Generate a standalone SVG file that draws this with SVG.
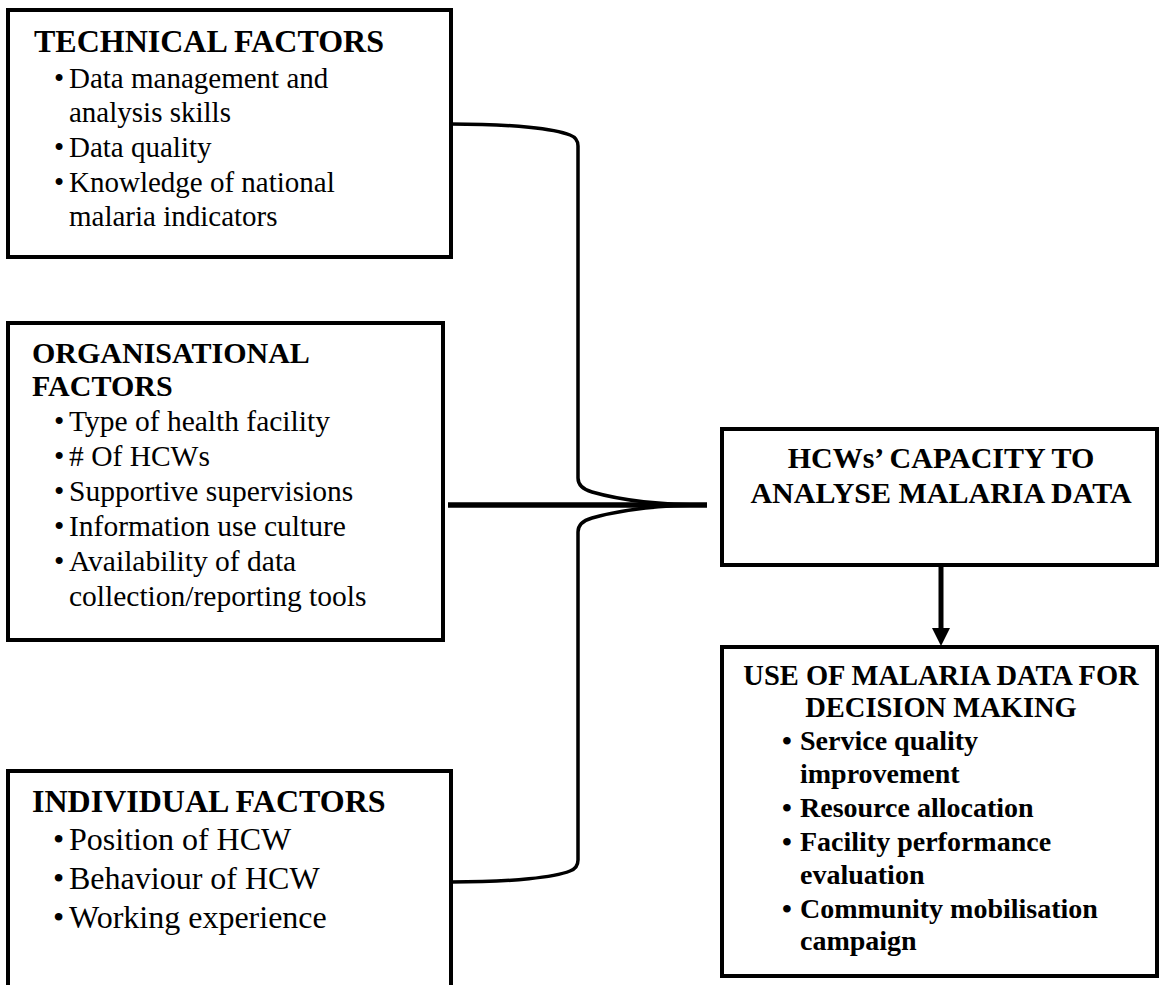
<svg xmlns="http://www.w3.org/2000/svg" width="1160" height="985" viewBox="0 0 1160 985">
<style>
.box{fill:#fff;stroke:#000;stroke-width:4}
.t{font-family:"Liberation Serif","Times New Roman",serif;fill:#000}
.r29{font-size:29px}
.r295{font-size:29.5px}
.r32{font-size:32px}
.h32{font-size:32px;font-weight:bold}
.h30{font-size:30px;font-weight:bold}
.h285{font-size:28.5px;font-weight:bold}
.h28{font-size:28px;font-weight:bold}
.c{text-anchor:middle}
.con{fill:none;stroke:#000;stroke-linejoin:round}
</style>
<defs>
<marker id="arr" viewBox="0 0 10 10" refX="0" refY="5" markerWidth="3.6" markerHeight="3.6" orient="auto" markerUnits="strokeWidth">
<path d="M0,0 L10,5 L0,10 Z" fill="#000"/>
</marker>
</defs>
<rect width="1160" height="985" fill="#fff"/>

<g id="technical">
<rect class="box" x="8" y="10" width="443" height="247"/>
<text class="t h32" x="34" y="52">TECHNICAL FACTORS</text>
<text class="t r29" x="54" y="88">•</text><text class="t r29" x="69" y="88">Data management and</text>
<text class="t r29" x="69" y="122">analysis skills</text>
<text class="t r29" x="54" y="157">•</text><text class="t r29" x="69" y="157">Data quality</text>
<text class="t r29" x="54" y="192">•</text><text class="t r29" x="69" y="192">Knowledge of national</text>
<text class="t r29" x="69" y="226">malaria indicators</text>
</g>

<g id="organisational">
<rect class="box" x="8" y="323" width="435" height="317"/>
<text class="t h30" x="32" y="363">ORGANISATIONAL</text>
<text class="t h30" x="32" y="396">FACTORS</text>
<text class="t r295" x="54" y="431">•</text><text class="t r295" x="69" y="431">Type of health facility</text>
<text class="t r295" x="54" y="466">•</text><text class="t r295" x="69" y="466"># Of HCWs</text>
<text class="t r295" x="54" y="501">•</text><text class="t r295" x="69" y="501">Supportive supervisions</text>
<text class="t r295" x="54" y="536">•</text><text class="t r295" x="69" y="536">Information use culture</text>
<text class="t r295" x="54" y="571">•</text><text class="t r295" x="69" y="571">Availability of data</text>
<text class="t r295" x="69" y="606">collection/reporting tools</text>
</g>

<g id="individual">
<rect class="box" x="8" y="771" width="443" height="230"/>
<text class="t h32" x="32" y="812">INDIVIDUAL FACTORS</text>
<text class="t r32" x="53" y="850">•</text><text class="t r32" x="69" y="850">Position of HCW</text>
<text class="t r32" x="53" y="889">•</text><text class="t r32" x="69" y="889">Behaviour of HCW</text>
<text class="t r32" x="53" y="928">•</text><text class="t r32" x="69" y="928">Working experience</text>
</g>

<g id="capacity">
<rect class="box" x="722" y="429" width="435" height="136"/>
<text class="t h30 c" x="941" y="468">HCWs’ CAPACITY TO</text>
<text class="t h30 c" x="941" y="503">ANALYSE MALARIA DATA</text>
</g>

<g id="use">
<rect class="box" x="722" y="647" width="435" height="329"/>
<text class="t h285 c" x="941" y="685">USE OF MALARIA DATA FOR</text>
<text class="t h285 c" x="941" y="717">DECISION MAKING</text>
<text class="t h28" x="782" y="750">•</text><text class="t h28" x="800" y="750">Service quality</text>
<text class="t h28" x="800" y="783">improvement</text>
<text class="t h28" x="782" y="817">•</text><text class="t h28" x="800" y="817">Resource allocation</text>
<text class="t h28" x="782" y="851">•</text><text class="t h28" x="800" y="851">Facility performance</text>
<text class="t h28" x="800" y="884">evaluation</text>
<text class="t h28" x="782" y="918">•</text><text class="t h28" x="800" y="918">Community mobilisation</text>
<text class="t h28" x="800" y="950">campaign</text>
</g>

<g id="connectors">
<path class="con" stroke-width="3.5" d="M451,124 C515,124 555,129 570,135 Q578,138 578,146 L578,478 Q578,488 592,492 C620,500 660,505 707,505"/>
<path class="con" stroke-width="3.5" d="M451,882 C515,882 555,877 570,871 Q578,868 578,860 L578,532 Q578,522 592,518 C620,510 660,505 707,505"/>
<path class="con" stroke-width="5.5" d="M448,505 L707,505"/>
<path fill="none" stroke="#000" stroke-width="5" d="M941,565 L941,628" marker-end="url(#arr)"/>
</g>
</svg>
